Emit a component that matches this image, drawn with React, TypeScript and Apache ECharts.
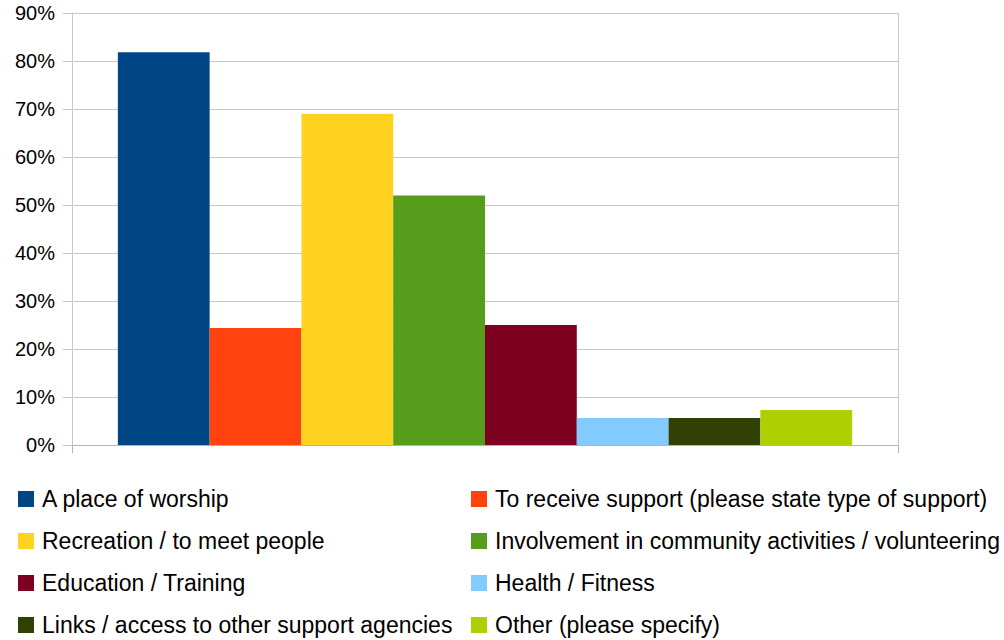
import React, { useEffect, useRef } from "react";
import * as echarts from "echarts";

const seriesNames = [
  "A place of worship",
  "To receive support (please state type of support)",
  "Recreation / to meet people",
  "Involvement in community activities / volunteering",
  "Education / Training",
  "Health / Fitness",
  "Links / access to other support agencies",
  "Other (please specify)",
];
const seriesValues = [81.8, 24.4, 69.0, 52.0, 25.0, 5.6, 5.6, 7.3];
const seriesColors = [
  "#004586",
  "#ff420e",
  "#ffd320",
  "#579d1c",
  "#7e0021",
  "#83caff",
  "#314004",
  "#aecf00",
];
const categories = [""];

export default function App() {
  const ref = useRef<HTMLDivElement>(null);
  useEffect(() => {
    if (!ref.current) return;
    const chart = echarts.init(ref.current, null, { renderer: "svg" });
    const font = "'Liberation Sans', Arial, sans-serif";
    const legendCommon = {
      orient: "vertical",
      icon: "rect",
      itemWidth: 16,
      itemHeight: 16,
      itemGap: 18,
      top: 487,
      padding: 0,
      height: 150,
      textStyle: {
        fontFamily: font,
        fontSize: 23,
        color: "#000",
        lineHeight: 24,
        padding: [0, 0, 0, 3],
      },
    };
    chart.setOption({
      animation: false,
      grid: { left: 72, right: 106, top: 13, bottom: 195, containLabel: false },
      xAxis: {
        type: "category",
        data: categories,
        axisLine: { show: true, lineStyle: { color: "#b3b3b3", width: 1 } },
        axisTick: { show: true, length: 8, lineStyle: { color: "#b3b3b3" } },
        axisLabel: { show: false },
        splitLine: { show: true, lineStyle: { color: "#c8c8c8", width: 1 } },
      },
      yAxis: {
        type: "value",
        min: 0,
        max: 90,
        interval: 10,
        axisLine: { show: true, lineStyle: { color: "#c8c8c8", width: 1 } },
        axisTick: { show: true, length: 9, lineStyle: { color: "#c8c8c8" } },
        axisLabel: {
          formatter: "{value}%",
          fontFamily: font,
          fontSize: 20,
          color: "#000",
          margin: 17,
        },
        splitLine: { show: true, lineStyle: { color: "#c8c8c8", width: 1 } },
      },
      legend: [
        {
          ...legendCommon,
          left: 18,
          data: [seriesNames[0], seriesNames[2], seriesNames[4], seriesNames[6]],
        },
        {
          ...legendCommon,
          left: 471,
          data: [seriesNames[1], seriesNames[3], seriesNames[5], seriesNames[7]],
        },
      ],
      series: seriesNames.map((name, i) => ({
        name,
        type: "bar",
        data: [seriesValues[i]],
        barGap: "0%",
        barCategoryGap: "11.1%",
        itemStyle: { color: seriesColors[i] },
      })),
    });
    return () => chart.dispose();
  }, []);
  return (
    <div
      ref={ref}
      style={{ position: "absolute", left: 0, top: 0, width: 1004, height: 640 }}
    />
  );
}
